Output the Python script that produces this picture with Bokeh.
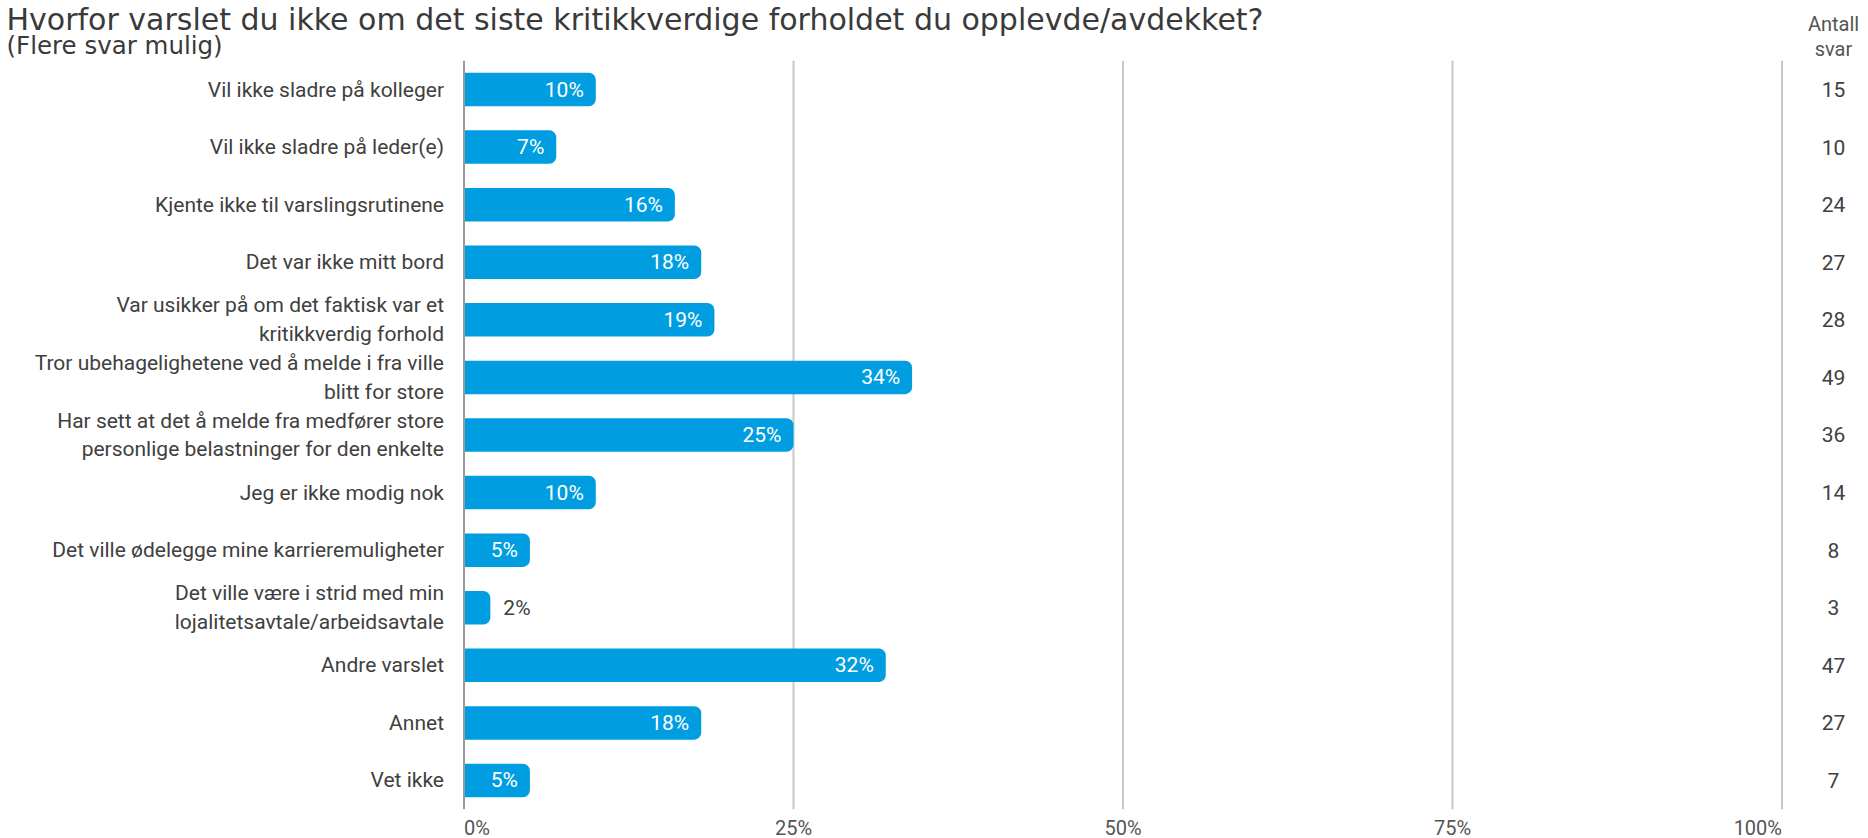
from bokeh.plotting import figure
from bokeh.models import ColumnDataSource, Range1d
from bokeh.core.properties import value
from bokeh.embed import file_html
from bokeh.resources import INLINE

# ---------------- data ----------------
title_text = "Hvorfor varslet du ikke om det siste kritikkverdige forholdet du opplevde/avdekket?"
subtitle_text = "(Flere svar mulig)"
count_header = ["Antall", "svar"]

categories = [
    "Vil ikke sladre på kolleger",
    "Vil ikke sladre på leder(e)",
    "Kjente ikke til varslingsrutinene",
    "Det var ikke mitt bord",
    "Var usikker på om det faktisk var et\nkritikkverdig forhold",
    "Tror ubehagelighetene ved å melde i fra ville\nblitt for store",
    "Har sett at det å melde fra medfører store\npersonlige belastninger for den enkelte",
    "Jeg er ikke modig nok",
    "Det ville ødelegge mine karrieremuligheter",
    "Det ville være i strid med min\nlojalitetsavtale/arbeidsavtale",
    "Andre varslet",
    "Annet",
    "Vet ikke",
]
percent = [10, 7, 16, 18, 19, 34, 25, 10, 5, 2, 32, 18, 5]
counts = [15, 10, 24, 27, 28, 49, 36, 14, 8, 3, 47, 27, 7]
x_ticks = [0, 25, 50, 75, 100]
x_tick_labels = ["0%", "25%", "50%", "75%", "100%"]

# ---------------- layout / style ----------------
W, H = 1868, 838
PX_PER_PCT = 13.18
ROW_PX = 57.58
X0 = 463.5   # canvas x of 0 %
Y0 = 89.0    # canvas y of first row centre

BLUE = "#009ee0"
TEXT = "#404040"
GRAY_TEXT = "#555555"
GRID = "#c8c8c8"
ZERO = "#9a9a9a"


def row_of(canvas_y):
    return (canvas_y - Y0) / ROW_PX


def x_of(canvas_x):
    return (canvas_x - X0) / PX_PER_PCT


x_start = x_of(0)
x_end = x_of(W)

p = figure(width=W, height=H,
           x_range=Range1d(x_start, x_end),
           y_range=Range1d(row_of(H), row_of(0)),
           x_axis_type=None, y_axis_type=None,
           output_backend="svg", toolbar_location=None,
           min_border=0, min_border_left=0, min_border_right=0,
           min_border_top=0, min_border_bottom=0)
p.outline_line_color = None
p.grid.visible = False
p.background_fill_color = "white"
p.border_fill_color = "white"

rows = list(range(len(categories)))
n = len(categories)
inside = [v >= 4 for v in percent]

src_in = ColumnDataSource(dict(
    row=[r for r, k in zip(rows, inside) if k],
    pct=[v for v, k in zip(percent, inside) if k],
    lbl=[f"{v}%" for v, k in zip(percent, inside) if k]))
src_out = ColumnDataSource(dict(
    row=[r for r, k in zip(rows, inside) if not k],
    pct=[v for v, k in zip(percent, inside) if not k],
    lbl=[f"{v}%" for v, k in zip(percent, inside) if not k]))
src = ColumnDataSource(dict(row=rows, cat=categories, pct=percent,
                            cnt=[str(c) for c in counts]))

# grid lines (behind bars)
grid_src = ColumnDataSource(dict(x=x_ticks[1:]))
p.segment(x0="x", x1="x", y0=-0.5, y1=n - 0.5, source=grid_src,
          line_color=GRID, line_width=2)

# bars
p.hbar(y="row", left=0, right="pct", height=33.5 / ROW_PX, source=src,
       fill_color=BLUE, line_color=None, border_radius=(0, 7, 7, 0))

# zero line
p.segment(x0=[x_ticks[0]], x1=[x_ticks[0]], y0=[-0.5], y1=[n - 0.5],
          line_color=ZERO, line_width=2)

font = value("Roboto")

# bar value labels
p.text(x="pct", y="row", text="lbl", source=src_in, x_offset=-12,
       text_align="right", text_baseline="middle", text_color="white",
       text_font=font, text_font_size="21px")
p.text(x="pct", y="row", text="lbl", source=src_out, x_offset=13,
       text_align="left", text_baseline="middle", text_color=TEXT,
       text_font=font, text_font_size="21px")

# category labels
p.text(x=0, y="row", text="cat", source=src, x_offset=-20,
       text_align="right", text_baseline="middle", text_color=TEXT,
       text_font=font, text_font_size="21px", text_line_height=1.2)

# counts column
cnt_x = x_of(1833)
p.text(x=cnt_x, y="row", text="cnt", source=src,
       text_align="center", text_baseline="middle", text_color=TEXT,
       text_font=font, text_font_size="21px")
p.text(x=[x_of(1833), x_of(1833)], y=[row_of(23.5), row_of(48)], text=count_header,
       text_align="center", text_baseline="middle", text_color=GRAY_TEXT,
       text_font=font, text_font_size="20px")

# x tick labels
aligns = ["left" if i == 0 else ("right" if i == len(x_ticks) - 1 else "center")
          for i in range(len(x_ticks))]
tick_src = ColumnDataSource(dict(x=x_ticks, t=x_tick_labels, a=aligns))
p.text(x="x", y=row_of(827), text="t", text_align="a", source=tick_src,
       text_baseline="middle", text_color=GRAY_TEXT,
       text_font=font, text_font_size="20px")

# title + subtitle
p.text(x=[x_of(6)], y=[row_of(19)], text=[title_text],
       text_align="left", text_baseline="middle", text_color="#3a3a3a",
       text_font=value("DejaVu Sans"), text_font_size="30px")
p.text(x=[x_of(6)], y=[row_of(44.5)], text=[subtitle_text],
       text_align="left", text_baseline="middle", text_color="#3a3a3a",
       text_font=value("DejaVu Sans"), text_font_size="24.5px")

open("out.html", "w").write(file_html(p, INLINE))
